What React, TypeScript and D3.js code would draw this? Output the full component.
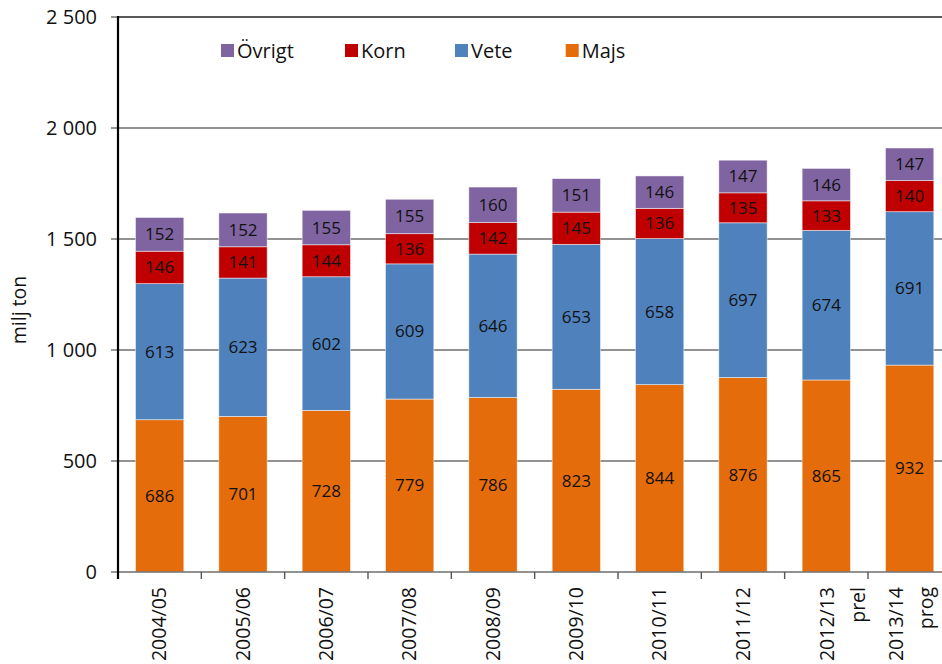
import React from "react";
import * as d3 from "d3";

const categories = ["2004/05", "2005/06", "2006/07", "2007/08", "2008/09", "2009/10", "2010/11", "2011/12", "2012/13", "2013/14"];
const categorySuffix = ["", "", "", "", "", "", "", "", "prel", "prog"];
const majs = [686, 701, 728, 779, 786, 823, 844, 876, 865, 932];
const vete = [613, 623, 602, 609, 646, 653, 658, 697, 674, 691];
const korn = [146, 141, 144, 136, 142, 145, 136, 135, 133, 140];
const ovrigt = [152, 152, 155, 155, 160, 151, 146, 147, 146, 147];
const yTicks = [0, 500, 1000, 1500, 2000, 2500];

const seriesNames = ["Majs", "Vete", "Korn", "Övrigt"];
const seriesColors = ["#E46C0A", "#4F81BD", "#C00000", "#8064A2"];
const legendOrder = ["Övrigt", "Korn", "Vete", "Majs"];

const FONT = "'Open Sans', sans-serif";

export default function App() {
  const width = 942;
  const height = 664;
  const left = 118;
  const right = 951.3;
  const top = 17;
  const bottom = 572;

  const x = d3.scaleBand<string>().domain(categories).range([left, right]).paddingInner(0.42).paddingOuter(0.21);
  const y = d3.scaleLinear().domain([0, 2500]).range([bottom, top]);

  const table = categories.map((c, i) => ({ cat: c, Majs: majs[i], Vete: vete[i], Korn: korn[i], "Övrigt": ovrigt[i] }));
  const stack = d3.stack<any>().keys(seriesNames)(table);

  const fmt = (v: number) => (v >= 1000 ? d3.format(",")(v).replace(",", " ") : String(v));
  const step = x.step();
  const legendX = [221, 345, 455, 565.7];

  const lineOffsets = (i: number) => {
    if (categorySuffix[i] === "prel") return [1, 32];
    if (categorySuffix[i] === "prog") return [-13, 17];
    return [0, 0];
  };

  return (
    <svg width={width} height={height} style={{ position: "absolute", left: 0, top: 0, background: "#fff" }}>
      {yTicks.filter((t) => t > 0).map((t) => (
        <line key={t} x1={left} x2={width} y1={y(t)} y2={y(t)} stroke={t === 2500 ? "#222" : "#6e6e6e"} strokeWidth={1.4} />
      ))}
      {yTicks.map((t) => (
        <g key={"yt" + t}>
          <line x1={left - 7} x2={left} y1={y(t)} y2={y(t)} stroke="#6e6e6e" strokeWidth={1.4} />
          <text x={97} y={y(t)} dy="0.35em" textAnchor="end" fontFamily={FONT} fontSize={20} fill="#111">
            {fmt(t)}
          </text>
        </g>
      ))}
      <text transform={`translate(19,310) rotate(-90)`} dy="0.35em" textAnchor="middle" fontFamily={FONT} fontSize={19.5} fill="#111">
        milj ton
      </text>

      {stack.map((s, si) => (
        <g key={s.key}>
          {s.map((d, i) => (
            <g key={i}>
              <rect
                x={x(categories[i])!}
                y={y(d[1])}
                width={x.bandwidth()}
                height={y(d[0]) - y(d[1])}
                fill={seriesColors[si]}
                stroke="#ffffff"
                strokeOpacity={0.6}
                strokeWidth={0.8}
              />
              <text
                x={x(categories[i])! + x.bandwidth() / 2}
                y={(y(d[0]) + y(d[1])) / 2}
                dy="0.35em"
                textAnchor="middle"
                fontFamily={FONT}
                fontSize={17}
                fill="#111"
              >
                {d[1] - d[0]}
              </text>
            </g>
          ))}
        </g>
      ))}

      <line x1={left} x2={width} y1={bottom} y2={bottom} stroke="#6e6e6e" strokeWidth={1.4} />
      {categories.map((c, i) => (
        <line key={"xt" + i} x1={left + i * step} x2={left + i * step} y1={bottom} y2={bottom + 7} stroke="#555" strokeWidth={1.4} />
      ))}
      <line x1={left} x2={left} y1={top - 1} y2={bottom + 7} stroke="#000" strokeWidth={2.2} />

      {categories.map((c, i) => {
        const cx = x(c)! + x.bandwidth() / 2;
        const [o1, o2] = lineOffsets(i);
        return (
          <g key={"xl" + c}>
            <text transform={`translate(${cx + o1},587) rotate(-90)`} dy="0.35em" textAnchor="end" fontFamily={FONT} fontSize={19.5} fill="#111">
              {c}
            </text>
            {categorySuffix[i] && (
              <text transform={`translate(${cx + o2},587) rotate(-90)`} dy="0.35em" textAnchor="end" fontFamily={FONT} fontSize={19.5} fill="#111">
                {categorySuffix[i]}
              </text>
            )}
          </g>
        );
      })}

      {legendOrder.map((name, i) => {
        const si = seriesNames.indexOf(name);
        return (
          <g key={"lg" + name}>
            <rect x={legendX[i]} y={44} width={13} height={13} fill={seriesColors[si]} />
            <text x={legendX[i] + 16} y={50.5} dy="0.35em" fontFamily={FONT} fontSize={20} fill="#111">
              {name}
            </text>
          </g>
        );
      })}
    </svg>
  );
}
